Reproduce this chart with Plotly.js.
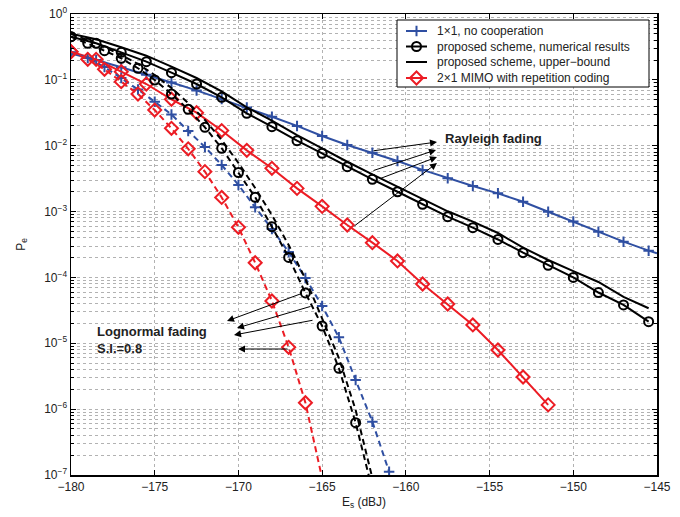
<!DOCTYPE html>
<html><head><meta charset="utf-8">
<script src="https://cdn.plot.ly/plotly-3.0.1.min.js"></script>
<style>html,body{margin:0;padding:0;background:#fff}#chart{width:680px;height:517px}</style>
</head><body><div id="chart"></div>
<script>
// ---------- data ----------
// Rayleigh fading, markers every 1.5 dB
const esRay = [-180,-178.5,-177,-175.5,-174,-172.5,-171,-169.5,-168,-166.5,-165,-163.5,-162,-160.5,-159,-157.5,-156,-154.5,-153,-151.5,-150,-148.5,-147,-145.5];
const blueRay = [0.251,0.200,0.155,0.120,0.0912,0.0692,0.0513,0.0380,0.0275,0.0200,0.01406,0.01026,7.83e-3,5.86e-3,4.29e-3,3.21e-3,2.44e-3,1.89e-3,1.41e-3,9.95e-4,7.06e-4,4.94e-4,3.49e-4,2.55e-4];
const blueRayTailEs = [-145];
const blueRayTailPe = [2.32e-4];
const blackRayNum = [0.4529,0.3589,0.2618,0.1888,0.1285,0.0865,0.0543,0.0310,0.01945,0.01191,7.67e-3,4.80e-3,3.09e-3,2.00e-3,1.29e-3,8.36e-4,5.69e-4,3.77e-4,2.38e-4,1.53e-4,1.00e-4,5.90e-5,3.82e-5,2.13e-5];
const blackRayUB = [0.5023,0.413,0.312,0.2328,0.1585,0.1067,0.0670,0.0383,0.0240,0.01445,9.14e-3,5.71e-3,3.68e-3,2.39e-3,1.53e-3,1.01e-3,7.02e-4,4.73e-4,2.83e-4,1.84e-4,1.25e-4,8.53e-5,5.05e-5,3.40e-5];
const esRayRed = [-180,-178.5,-177,-175.5,-174,-172.5,-171,-169.5,-168,-166.5,-165,-163.5,-162,-160.5,-159,-157.5,-156,-154.5,-153,-151.5];
const redRay = [0.2679,0.2051,0.1330,0.0865,0.0507,0.0317,0.0170,8.51e-3,4.54e-3,2.25e-3,1.20e-3,6.25e-4,3.37e-4,1.78e-4,7.94e-5,3.95e-5,1.90e-5,7.91e-6,3.08e-6,1.16e-6];

// Lognormal fading (S.I.=0.8), markers every 1 dB
const esLogBlue = [-180,-179,-178,-177,-176,-175,-174,-173,-172,-171,-170,-169,-168,-167,-166,-165,-164,-163,-162,-161];
const blueLog = [0.263,0.215,0.1567,0.1067,0.0714,0.0466,0.0298,0.01675,9.57e-3,5.09e-3,2.54e-3,1.16e-3,5.45e-4,2.43e-4,9.82e-5,3.68e-5,1.23e-5,2.77e-6,6.46e-7,1.12e-7];
const esLogBlack = [-180,-179,-178,-177,-176,-175,-174,-173,-172,-171,-170,-169,-168,-167,-166,-165,-164,-163];
const blackLogNum = [0.4529,0.3589,0.2773,0.2123,0.1500,0.0995,0.0610,0.0357,0.01905,9.14e-3,3.92e-3,1.65e-3,5.89e-4,2.01e-4,5.81e-5,1.83e-5,4.17e-6,6.22e-7];
const blackLogNumTailEs = [-162];
const blackLogNumTailPe = [5.92e-8];
const esLogUB = [-180,-179,-178,-177,-176,-175,-174,-173,-172,-171,-170,-169,-168,-167,-166,-165,-164,-163,-162];
const blackLogUB = [0.4966,0.4027,0.3155,0.2382,0.1742,0.1186,0.0752,0.0446,0.0246,0.01222,5.47e-3,2.28e-3,8.87e-4,3.11e-4,9.46e-5,2.42e-5,5.98e-6,9.70e-7,9.02e-8];
const esLogRed = [-180,-179,-178,-177,-176,-175,-174,-173,-172,-171,-170,-169,-168,-167,-166];
const redLog = [0.2679,0.2051,0.1445,0.0938,0.0610,0.0348,0.01837,8.97e-3,4.04e-3,1.64e-3,5.77e-4,1.67e-4,4.39e-5,8.69e-6,1.25e-6];
const redLogTailEs = [-165];
const redLogTailPe = [8.91e-8];

const legendNames = ['1\u00d71, no cooperation','proposed scheme, numerical results','proposed scheme, upper\u2212bound','2\u00d71 MIMO with repetition coding'];
const xTicks = [-180,-175,-170,-165,-160,-155,-150,-145];
const yTickExp = [-7,-6,-5,-4,-3,-2,-1,0];

// ---------- styles ----------
const BLUE = '#2f4fa2', RED = '#ec1c24', BLACK = '#000000';
const LW = 2, DASH = '6px,4px';
const mkBlue = {symbol:'cross-thin-open', size:7.5, color:BLUE, line:{color:BLUE, width:2}};
const mkBlack = {symbol:'circle-open', size:9, color:BLACK, line:{color:BLACK, width:2}};
const mkRed = {symbol:'diamond-open', size:10, color:RED, line:{color:RED, width:2}};

function lineTrace(x, y, color, dash){
  return {x:x, y:y, mode:'lines', line:{color:color, width:LW, dash:dash||'solid'}, showlegend:false, hoverinfo:'skip'};
}
function markTrace(x, y, mk){
  return {x:x, y:y, mode:'markers', marker:mk, showlegend:false, hoverinfo:'skip'};
}

// legend layout in page pixels (overlay axes x2/y2 map page pixels)
const L = 71, T = 14, W = 586, H = 461;
const legBox = {x0:397, y0:20, x1:649, y1:87};
const legRowY = [31, 46.5, 62, 78];
const legLineX = [406, 427];
const legTextX = 435;

function legSample(row, color, mk){
  const tr = [{x:legLineX, y:[legRowY[row], legRowY[row]], xaxis:'x2', yaxis:'y2', mode:'lines',
    line:{color:color, width:LW}, showlegend:false, hoverinfo:'skip'}];
  if (mk) tr.push({x:[(legLineX[0]+legLineX[1])/2], y:[legRowY[row]], xaxis:'x2', yaxis:'y2', mode:'markers',
    marker:mk, showlegend:false, hoverinfo:'skip'});
  return tr;
}
const legFrame = {x:[legBox.x0, legBox.x1, legBox.x1, legBox.x0, legBox.x0],
  y:[legBox.y0, legBox.y0, legBox.y1, legBox.y1, legBox.y0], xaxis:'x2', yaxis:'y2', mode:'lines',
  fill:'toself', fillcolor:'#ffffff', line:{color:'#000', width:1}, showlegend:false, hoverinfo:'skip'};

const traces = [
  // Rayleigh
  lineTrace(esRay.concat(blueRayTailEs), blueRay.concat(blueRayTailPe), BLUE),
  markTrace(esRay, blueRay, mkBlue),
  lineTrace(esRay, blackRayNum, BLACK),
  markTrace(esRay, blackRayNum, mkBlack),
  lineTrace(esRay, blackRayUB, BLACK),
  lineTrace(esRayRed, redRay, RED),
  markTrace(esRayRed, redRay, mkRed),
  // Lognormal
  lineTrace(esLogBlue, blueLog, BLUE, DASH),
  markTrace(esLogBlue, blueLog, mkBlue),
  lineTrace(esLogBlack.concat(blackLogNumTailEs), blackLogNum.concat(blackLogNumTailPe), BLACK, DASH),
  markTrace(esLogBlack, blackLogNum, mkBlack),
  lineTrace(esLogUB, blackLogUB, BLACK, DASH),
  lineTrace(esLogRed.concat(redLogTailEs), redLog.concat(redLogTailPe), RED, DASH),
  markTrace(esLogRed, redLog, mkRed),
  legFrame
].concat(legSample(0, BLUE, mkBlue), legSample(1, BLACK, mkBlack), legSample(2, BLACK, null), legSample(3, RED, mkRed));

// minor tick positions for log axis
const minorVals = [];
for (let e = -7; e < 0; e++) for (let m = 2; m <= 9; m++) minorVals.push(m * Math.pow(10, e));

const px = x => (x - L) / W;
const py = y => (T + H - y) / H;

function arrow(hx, hy, tx, ty){
  return {xref:'paper', yref:'paper', x:px(hx), y:py(hy), ax:tx-hx, ay:ty-hy, text:'', showarrow:true,
    arrowhead:2, arrowsize:1.4, arrowwidth:1, arrowcolor:'#000'};
}
const FONT = 'Liberation Sans, Arial, Helvetica, sans-serif';
const annotations = [
  {xref:'paper', yref:'paper', x:px(443), y:py(138), xanchor:'left', yanchor:'middle', showarrow:false,
   text:'<b>Rayleigh fading</b>', font:{family:FONT, size:13, color:'#222'}},
  {xref:'paper', yref:'paper', x:px(95), y:py(331), xanchor:'left', yanchor:'middle', showarrow:false,
   text:'<b>Lognormal fading</b>', font:{family:FONT, size:13, color:'#222'}},
  {xref:'paper', yref:'paper', x:px(95), y:py(348), xanchor:'left', yanchor:'middle', showarrow:false,
   text:'<b>S.I.=0.8</b>', font:{family:FONT, size:13, color:'#222'}},
  arrow(437, 142, 372, 151),
  arrow(436, 150, 372, 171),
  arrow(437, 157, 379, 179),
  arrow(437, 163, 353, 227),
  arrow(227, 321, 303, 293),
  arrow(237, 328, 312, 306),
  arrow(234, 335, 314, 320),
  arrow(238, 349, 289, 349)
].concat(legendNames.map((t, i) => ({xref:'x2', yref:'y2', x:legTextX, y:legRowY[i], xanchor:'left', yanchor:'middle',
  showarrow:false, text:t, font:{family:FONT, size:12, color:'#222'}})));

const GRID = '#b2b2b2';
const layout = {
  width:680, height:517,
  margin:{l:L, r:680-L-W, t:T, b:517-T-H},
  paper_bgcolor:'#fff', plot_bgcolor:'#fff',
  font:{family:FONT, size:12, color:'#000'},
  showlegend:false,
  xaxis:{range:[-180,-145], tickvals:xTicks, ticks:'inside', ticklen:5, tickcolor:'#000', mirror:'ticks',
    showline:true, linecolor:'#000', linewidth:1.5, showgrid:true, gridcolor:GRID, griddash:'dot', gridwidth:1,
    zeroline:false, tickfont:{family:FONT, size:12, color:'#222'},
    title:{text:'E<sub>s</sub> (dBJ)', font:{family:FONT, size:12, color:'#222'}, standoff:4}},
  yaxis:{type:'log', range:[-7,0], tickvals:yTickExp.map(e=>Math.pow(10,e)),
    ticktext:yTickExp.map(e=>'10<sup>'+(e<0?'\u2212'+(-e):e)+'</sup>'),
    ticks:'inside', ticklen:5, tickcolor:'#000', mirror:'ticks',
    showline:true, linecolor:'#000', linewidth:1.5, showgrid:true, gridcolor:GRID, griddash:'dot', gridwidth:1,
    zeroline:false, tickfont:{family:FONT, size:12, color:'#222'},
    minor:{tickvals:minorVals, ticks:'inside', ticklen:3, tickcolor:'#000', showgrid:true, gridcolor:GRID, griddash:'dot', gridwidth:1},
    title:{text:'P<sub>e</sub>', font:{family:FONT, size:12, color:'#222'}, standoff:16}},
  xaxis2:{overlaying:'x', range:[L, L+W], visible:false, fixedrange:true},
  yaxis2:{overlaying:'y', range:[T+H, T], visible:false, fixedrange:true},
  annotations:annotations
};

Plotly.newPlot('chart', traces, layout, {displayModeBar:false, staticPlot:true});
</script>
</body></html>
